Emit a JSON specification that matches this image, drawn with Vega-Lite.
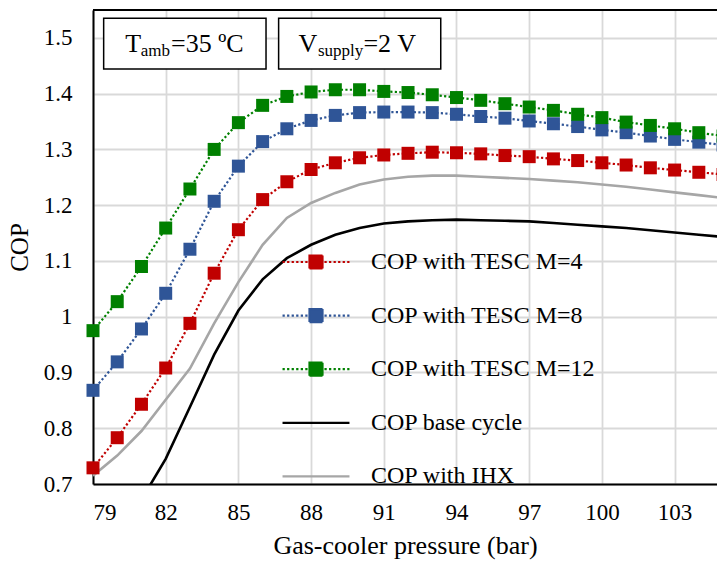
{
  "$schema": "https://vega.github.io/schema/vega-lite/v6.json",
  "width": 624,
  "height": 474,
  "autosize": {"type": "none"},
  "padding": {"left": 93, "top": 10, "right": 0, "bottom": 80},
  "background": "white",
  "config": {
    "font": "Liberation Serif",
    "view": {"stroke": null},
    "axis": {"labelFont": "Liberation Serif", "titleFont": "Liberation Serif"},
    "legend": {"labelFont": "Liberation Serif"}
  },
  "datasets": {
    "cop": [
      {"p": 79, "series": "COP with TESC M=4", "cop": 0.729},
      {"p": 80, "series": "COP with TESC M=4", "cop": 0.783},
      {"p": 81, "series": "COP with TESC M=4", "cop": 0.843},
      {"p": 82, "series": "COP with TESC M=4", "cop": 0.908},
      {"p": 83, "series": "COP with TESC M=4", "cop": 0.988},
      {"p": 84, "series": "COP with TESC M=4", "cop": 1.078},
      {"p": 85, "series": "COP with TESC M=4", "cop": 1.156},
      {"p": 86, "series": "COP with TESC M=4", "cop": 1.210},
      {"p": 87, "series": "COP with TESC M=4", "cop": 1.242},
      {"p": 88, "series": "COP with TESC M=4", "cop": 1.264},
      {"p": 89, "series": "COP with TESC M=4", "cop": 1.276},
      {"p": 90, "series": "COP with TESC M=4", "cop": 1.285},
      {"p": 91, "series": "COP with TESC M=4", "cop": 1.290},
      {"p": 92, "series": "COP with TESC M=4", "cop": 1.293},
      {"p": 93, "series": "COP with TESC M=4", "cop": 1.295},
      {"p": 94, "series": "COP with TESC M=4", "cop": 1.294},
      {"p": 95, "series": "COP with TESC M=4", "cop": 1.292},
      {"p": 96, "series": "COP with TESC M=4", "cop": 1.289},
      {"p": 97, "series": "COP with TESC M=4", "cop": 1.287},
      {"p": 98, "series": "COP with TESC M=4", "cop": 1.283},
      {"p": 99, "series": "COP with TESC M=4", "cop": 1.280},
      {"p": 100, "series": "COP with TESC M=4", "cop": 1.276},
      {"p": 101, "series": "COP with TESC M=4", "cop": 1.272},
      {"p": 102, "series": "COP with TESC M=4", "cop": 1.267},
      {"p": 103, "series": "COP with TESC M=4", "cop": 1.263},
      {"p": 104, "series": "COP with TESC M=4", "cop": 1.259},
      {"p": 105, "series": "COP with TESC M=4", "cop": 1.255},
      {"p": 79, "series": "COP with TESC M=8", "cop": 0.868},
      {"p": 80, "series": "COP with TESC M=8", "cop": 0.919},
      {"p": 81, "series": "COP with TESC M=8", "cop": 0.978},
      {"p": 82, "series": "COP with TESC M=8", "cop": 1.042},
      {"p": 83, "series": "COP with TESC M=8", "cop": 1.121},
      {"p": 84, "series": "COP with TESC M=8", "cop": 1.207},
      {"p": 85, "series": "COP with TESC M=8", "cop": 1.270},
      {"p": 86, "series": "COP with TESC M=8", "cop": 1.314},
      {"p": 87, "series": "COP with TESC M=8", "cop": 1.337},
      {"p": 88, "series": "COP with TESC M=8", "cop": 1.352},
      {"p": 89, "series": "COP with TESC M=8", "cop": 1.361},
      {"p": 90, "series": "COP with TESC M=8", "cop": 1.366},
      {"p": 91, "series": "COP with TESC M=8", "cop": 1.367},
      {"p": 92, "series": "COP with TESC M=8", "cop": 1.367},
      {"p": 93, "series": "COP with TESC M=8", "cop": 1.366},
      {"p": 94, "series": "COP with TESC M=8", "cop": 1.363},
      {"p": 95, "series": "COP with TESC M=8", "cop": 1.359},
      {"p": 96, "series": "COP with TESC M=8", "cop": 1.356},
      {"p": 97, "series": "COP with TESC M=8", "cop": 1.351},
      {"p": 98, "series": "COP with TESC M=8", "cop": 1.346},
      {"p": 99, "series": "COP with TESC M=8", "cop": 1.341},
      {"p": 100, "series": "COP with TESC M=8", "cop": 1.335},
      {"p": 101, "series": "COP with TESC M=8", "cop": 1.330},
      {"p": 102, "series": "COP with TESC M=8", "cop": 1.324},
      {"p": 103, "series": "COP with TESC M=8", "cop": 1.318},
      {"p": 104, "series": "COP with TESC M=8", "cop": 1.313},
      {"p": 105, "series": "COP with TESC M=8", "cop": 1.308},
      {"p": 79, "series": "COP with TESC M=12", "cop": 0.975},
      {"p": 80, "series": "COP with TESC M=12", "cop": 1.027},
      {"p": 81, "series": "COP with TESC M=12", "cop": 1.090},
      {"p": 82, "series": "COP with TESC M=12", "cop": 1.159},
      {"p": 83, "series": "COP with TESC M=12", "cop": 1.229},
      {"p": 84, "series": "COP with TESC M=12", "cop": 1.300},
      {"p": 85, "series": "COP with TESC M=12", "cop": 1.348},
      {"p": 86, "series": "COP with TESC M=12", "cop": 1.379},
      {"p": 87, "series": "COP with TESC M=12", "cop": 1.395},
      {"p": 88, "series": "COP with TESC M=12", "cop": 1.403},
      {"p": 89, "series": "COP with TESC M=12", "cop": 1.407},
      {"p": 90, "series": "COP with TESC M=12", "cop": 1.407},
      {"p": 91, "series": "COP with TESC M=12", "cop": 1.404},
      {"p": 92, "series": "COP with TESC M=12", "cop": 1.402},
      {"p": 93, "series": "COP with TESC M=12", "cop": 1.398},
      {"p": 94, "series": "COP with TESC M=12", "cop": 1.393},
      {"p": 95, "series": "COP with TESC M=12", "cop": 1.388},
      {"p": 96, "series": "COP with TESC M=12", "cop": 1.382},
      {"p": 97, "series": "COP with TESC M=12", "cop": 1.376},
      {"p": 98, "series": "COP with TESC M=12", "cop": 1.370},
      {"p": 99, "series": "COP with TESC M=12", "cop": 1.363},
      {"p": 100, "series": "COP with TESC M=12", "cop": 1.357},
      {"p": 101, "series": "COP with TESC M=12", "cop": 1.349},
      {"p": 102, "series": "COP with TESC M=12", "cop": 1.343},
      {"p": 103, "series": "COP with TESC M=12", "cop": 1.337},
      {"p": 104, "series": "COP with TESC M=12", "cop": 1.330},
      {"p": 105, "series": "COP with TESC M=12", "cop": 1.324},
      {"p": 81, "series": "COP base cycle", "cop": 0.672},
      {"p": 82, "series": "COP base cycle", "cop": 0.745},
      {"p": 83, "series": "COP base cycle", "cop": 0.838},
      {"p": 84, "series": "COP base cycle", "cop": 0.932},
      {"p": 85, "series": "COP base cycle", "cop": 1.011},
      {"p": 86, "series": "COP base cycle", "cop": 1.067},
      {"p": 87, "series": "COP base cycle", "cop": 1.105},
      {"p": 88, "series": "COP base cycle", "cop": 1.129},
      {"p": 89, "series": "COP base cycle", "cop": 1.147},
      {"p": 90, "series": "COP base cycle", "cop": 1.159},
      {"p": 91, "series": "COP base cycle", "cop": 1.167},
      {"p": 92, "series": "COP base cycle", "cop": 1.171},
      {"p": 93, "series": "COP base cycle", "cop": 1.173},
      {"p": 94, "series": "COP base cycle", "cop": 1.174},
      {"p": 95, "series": "COP base cycle", "cop": 1.173},
      {"p": 96, "series": "COP base cycle", "cop": 1.172},
      {"p": 97, "series": "COP base cycle", "cop": 1.171},
      {"p": 98, "series": "COP base cycle", "cop": 1.168},
      {"p": 99, "series": "COP base cycle", "cop": 1.165},
      {"p": 100, "series": "COP base cycle", "cop": 1.162},
      {"p": 101, "series": "COP base cycle", "cop": 1.159},
      {"p": 102, "series": "COP base cycle", "cop": 1.155},
      {"p": 103, "series": "COP base cycle", "cop": 1.151},
      {"p": 104, "series": "COP base cycle", "cop": 1.147},
      {"p": 105, "series": "COP base cycle", "cop": 1.143},
      {"p": 79, "series": "COP with IHX", "cop": 0.715},
      {"p": 80, "series": "COP with IHX", "cop": 0.751},
      {"p": 81, "series": "COP with IHX", "cop": 0.795},
      {"p": 82, "series": "COP with IHX", "cop": 0.851},
      {"p": 83, "series": "COP with IHX", "cop": 0.907},
      {"p": 84, "series": "COP with IHX", "cop": 0.988},
      {"p": 85, "series": "COP with IHX", "cop": 1.062},
      {"p": 86, "series": "COP with IHX", "cop": 1.129},
      {"p": 87, "series": "COP with IHX", "cop": 1.177},
      {"p": 88, "series": "COP with IHX", "cop": 1.204},
      {"p": 89, "series": "COP with IHX", "cop": 1.222},
      {"p": 90, "series": "COP with IHX", "cop": 1.237},
      {"p": 91, "series": "COP with IHX", "cop": 1.246},
      {"p": 92, "series": "COP with IHX", "cop": 1.251},
      {"p": 93, "series": "COP with IHX", "cop": 1.253},
      {"p": 94, "series": "COP with IHX", "cop": 1.253},
      {"p": 95, "series": "COP with IHX", "cop": 1.251},
      {"p": 96, "series": "COP with IHX", "cop": 1.249},
      {"p": 97, "series": "COP with IHX", "cop": 1.247},
      {"p": 98, "series": "COP with IHX", "cop": 1.244},
      {"p": 99, "series": "COP with IHX", "cop": 1.241},
      {"p": 100, "series": "COP with IHX", "cop": 1.237},
      {"p": 101, "series": "COP with IHX", "cop": 1.233},
      {"p": 102, "series": "COP with IHX", "cop": 1.228},
      {"p": 103, "series": "COP with IHX", "cop": 1.223},
      {"p": 104, "series": "COP with IHX", "cop": 1.218},
      {"p": 105, "series": "COP with IHX", "cop": 1.213}
    ]
  },
  "layer": [
    {
      "data": {"name": "cop"},
      "transform": [{"filter": {"field": "series", "oneOf": ["COP base cycle", "COP with IHX"]}}],
      "mark": {"type": "line", "clip": true, "strokeWidth": 2.6},
      "encoding": {
        "x": {
          "field": "p", "type": "quantitative",
          "scale": {"domain": [79, 104.75], "nice": false, "zero": false},
          "title": "Gas-cooler pressure (bar)",
          "axis": {
            "values": [79, 82, 85, 88, 91, 94, 97, 100, 103],
            "grid": true, "gridColor": "#D9D9D9", "gridWidth": 1.8,
            "ticks": false, "domain": true, "domainColor": "#000000", "domainWidth": 2,
            "labelFontSize": 23, "labelColor": "#000000", "labelPadding": 17, "labelFont": "Liberation Serif",
            "titleFontSize": 26, "titleFontWeight": "normal", "titleColor": "#000000", "titlePadding": 8, "titleFont": "Liberation Serif"
          }
        },
        "y": {
          "field": "cop", "type": "quantitative",
          "scale": {"domain": [0.7, 1.55], "nice": false, "zero": false},
          "title": "COP",
          "axis": {
            "values": [0.7, 0.8, 0.9, 1, 1.1, 1.2, 1.3, 1.4, 1.5],
            "format": "~g",
            "grid": true, "gridColor": "#D9D9D9", "gridWidth": 1.8,
            "ticks": false, "domain": true, "domainColor": "#000000", "domainWidth": 2,
            "labelFontSize": 23, "labelColor": "#000000", "labelPadding": 21, "labelFont": "Liberation Serif",
            "titleFontSize": 25, "titleFontWeight": "normal", "titleColor": "#000000", "titlePadding": 11, "titleFont": "Liberation Serif"
          }
        },
        "color": {
          "field": "series", "type": "nominal",
          "scale": {
            "domain": ["COP with TESC M=4", "COP with TESC M=8", "COP with TESC M=12", "COP base cycle", "COP with IHX"],
            "range": ["#C00000", "#2F5597", "#008000", "#000000", "#A6A6A6"]
          },
          "legend": {
            "orient": "none", "legendX": 211, "legendY": 240, "title": null, "padding": 0,
            "labelFont": "Liberation Serif", "labelFontSize": 24, "labelColor": "#000000", "labelLimit": 500,
            "symbolSize": 169, "symbolStrokeWidth": 2.2, "labelOffset": 43, "rowPadding": 29.6,
            "symbolType": "M-5.15,0H5.15",
            "encode": {
              "symbols": {
                "update": {
                  "shape": {"signal": "indexof(['COP base cycle','COP with IHX'], datum.value) >= 0 ? 'M-5.15,0H5.15' : 'M-5.15,0H-4.8M-4.45,0H-4.1M-3.75,0H-3.4M-3.05,0H-2.7M-2.35,0H-2M-1.65,0H-1.3M1.3,0H1.65M2,0H2.35M2.7,0H3.05M3.4,0H3.75M4.1,0H4.45M4.8,0H5.15M-1,-1H1V1H-1Z'"},
                  "fill": {"signal": "scale('color', datum.value)"},
                  "fillOpacity": {"value": 1},
                  "stroke": {"signal": "scale('color', datum.value)"},
                  "strokeDash": {"value": [1, 0]},
                  "strokeWidth": {"value": 2.2},
                  "opacity": {"value": 1}
                }
              }
            }
          }
        }
      }
    },
    {
      "data": {"name": "cop"},
      "transform": [{"filter": {"field": "series", "oneOf": ["COP with TESC M=4", "COP with TESC M=8", "COP with TESC M=12"]}}],
      "mark": {"type": "line", "clip": true, "strokeWidth": 2.2, "strokeDash": [2.2, 2.3]},
      "encoding": {
        "x": {"field": "p", "type": "quantitative"},
        "y": {"field": "cop", "type": "quantitative"},
        "color": {"field": "series", "type": "nominal"}
      }
    },
    {
      "data": {"name": "cop"},
      "transform": [{"filter": {"field": "series", "oneOf": ["COP with TESC M=4", "COP with TESC M=8", "COP with TESC M=12"]}}],
      "mark": {"type": "point", "shape": "square", "filled": true, "size": 169, "opacity": 1, "clip": false},
      "encoding": {
        "x": {"field": "p", "type": "quantitative"},
        "y": {"field": "cop", "type": "quantitative"},
        "color": {"field": "series", "type": "nominal"}
      }
    },
    {
      "data": {"values": [{}]},
      "mark": {"type": "rect", "fill": "#FFFFFF", "stroke": "#000000", "strokeWidth": 1.5},
      "encoding": {
        "x": {"datum": 79.44}, "x2": {"datum": 86.14},
        "y": {"datum": 1.535}, "y2": {"datum": 1.444}
      }
    },
    {
      "data": {"values": [{}]},
      "mark": {"type": "rect", "fill": "#FFFFFF", "stroke": "#000000", "strokeWidth": 1.5},
      "encoding": {
        "x": {"datum": 86.66}, "x2": {"datum": 93.35},
        "y": {"datum": 1.535}, "y2": {"datum": 1.444}
      }
    },
    {
      "data": {"values": [{}]},
      "mark": {"type": "text", "text": "T", "font": "Liberation Serif", "fontSize": 26, "align": "left", "baseline": "alphabetic", "color": "#000000"},
      "encoding": {"x": {"datum": 80.33}, "y": {"datum": 1.4741}}
    },
    {
      "data": {"values": [{}]},
      "mark": {"type": "text", "text": "amb", "font": "Liberation Serif", "fontSize": 17, "align": "left", "baseline": "alphabetic", "color": "#000000"},
      "encoding": {"x": {"datum": 80.97}, "y": {"datum": 1.4684}}
    },
    {
      "data": {"values": [{}]},
      "mark": {"type": "text", "text": "=35 ºC", "font": "Liberation Serif", "fontSize": 26, "align": "left", "baseline": "alphabetic", "color": "#000000"},
      "encoding": {"x": {"datum": 82.22}, "y": {"datum": 1.4741}}
    },
    {
      "data": {"values": [{}]},
      "mark": {"type": "text", "text": "V", "font": "Liberation Serif", "fontSize": 26, "align": "left", "baseline": "alphabetic", "color": "#000000"},
      "encoding": {"x": {"datum": 87.48}, "y": {"datum": 1.4741}}
    },
    {
      "data": {"values": [{}]},
      "mark": {"type": "text", "text": "supply", "font": "Liberation Serif", "fontSize": 17, "align": "left", "baseline": "alphabetic", "color": "#000000"},
      "encoding": {"x": {"datum": 88.28}, "y": {"datum": 1.4684}}
    },
    {
      "data": {"values": [{}]},
      "mark": {"type": "text", "text": "=2 V", "font": "Liberation Serif", "fontSize": 26, "align": "left", "baseline": "alphabetic", "color": "#000000"},
      "encoding": {"x": {"datum": 90.16}, "y": {"datum": 1.4741}}
    },
    {
      "data": {"values": [{}]},
      "mark": {"type": "rule", "color": "#000000", "strokeWidth": 2},
      "encoding": {"x": {"datum": 79}, "x2": {"datum": 104.75}, "y": {"datum": 1.55}}
    }
  ]
}
